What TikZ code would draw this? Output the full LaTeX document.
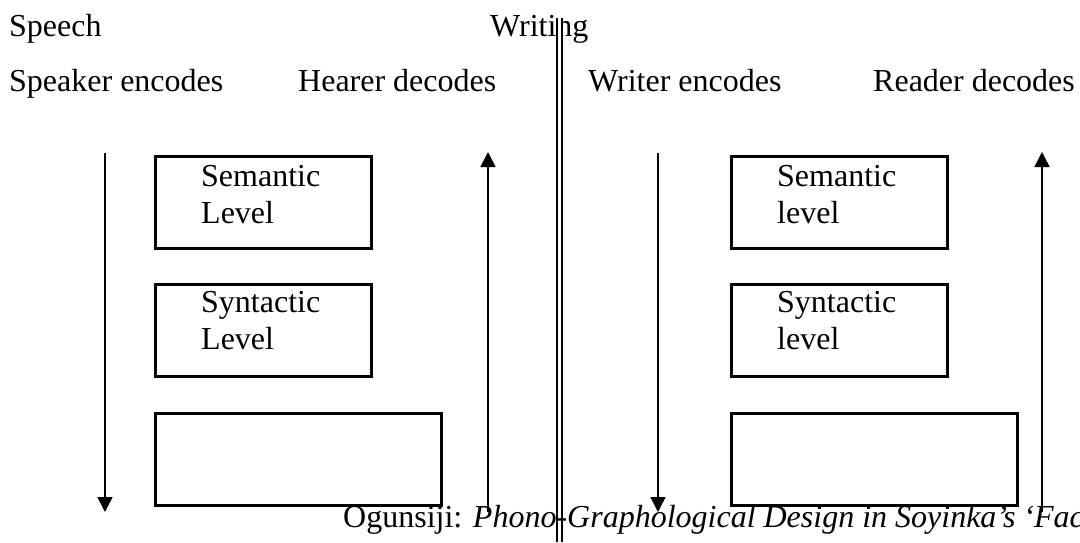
\documentclass[tikz,border=0pt]{standalone}
\usepackage{fontspec}
\setmainfont{Liberation Serif}
\usetikzlibrary{arrows.meta, positioning}

\begin{document}
\begin{tikzpicture}[
		x=1pt, y=-1pt,
		every node/.style = {font=\fontsize{32}{37}\selectfont, inner sep=0pt},
		levelbox/.style = {rectangle, draw, line width=3pt,
				minimum width=216pt, minimum height=92pt, anchor=north west},
		widebox/.style = {levelbox, minimum width=286pt},
		leveltext/.style = {align=left, anchor=north west},
		headtext/.style = {anchor=base west},
		flow/.style = {draw, line width=1.5pt, -{Triangle[width=15pt, length=15pt]}},
		divider/.style = {draw, double, line width=2pt, double distance=3pt},
	]
	\useasboundingbox (0,0) rectangle (1080,542);

	% Headings
	\node [headtext] (speech) at (9,36) {Speech};
	\node [headtext] (writing) at (490,36) {Writing};
	\node [headtext] (speaker) at (9,91) {Speaker encodes};
	\node [headtext] (hearer) at (298,91) {Hearer decodes};
	\node [headtext] (writer) at (588,91) {Writer encodes};
	\node [headtext] (reader) at (873,91) {Reader decodes};

	% Speech levels
	\node [levelbox] (spsem) at (153.5,154.5) {};
	\node [levelbox, below=33pt of spsem.south west, anchor=north west] (spsyn) {};
	\node [widebox, below=34pt of spsyn.south west, anchor=north west] (spblank) {};
	\node [leveltext] (spsemtext) at (201,165) {Semantic\\Level};
	\node [leveltext] (spsyntext) at (201,291) {Syntactic\\Level};

	% Writing levels
	\node [levelbox] (wrsem) at (729.5,154.5) {};
	\node [levelbox, below=33pt of wrsem.south west, anchor=north west] (wrsyn) {};
	\node [widebox, below=34pt of wrsyn.south west, anchor=north west] (wrblank) {};
	\node [leveltext] (wrsemtext) at (777,165) {Semantic\\level};
	\node [leveltext] (wrsyntext) at (777,291) {Syntactic\\level};

	% Arrow ends
	\coordinate (speaktop) at (105,153);
	\coordinate (speakbot) at (105,512);
	\coordinate (heartop) at (488,152);
	\coordinate (hearbot) at (488,512);
	\coordinate (writetop) at (658,153);
	\coordinate (writebot) at (658,512);
	\coordinate (readtop) at (1042,152);
	\coordinate (readbot) at (1042,512);
	\coordinate (divtop) at (559.5,18);
	\coordinate (divbot) at (559.5,542);

	% Draw arrows
	\path [flow] (speaktop) -- (speakbot);
	\path [flow] (hearbot) -- (heartop);
	\path [flow] (writetop) -- (writebot);
	\path [flow] (readbot) -- (readtop);
	\path [divider] (divtop) -- (divbot);

	% Caption
	\node [headtext] (caption) at (343,527)
		{Ogunsiji: \textit{Phono-Graphological Design in Soyinka’s ‘Fac}};
\end{tikzpicture}
\end{document}
